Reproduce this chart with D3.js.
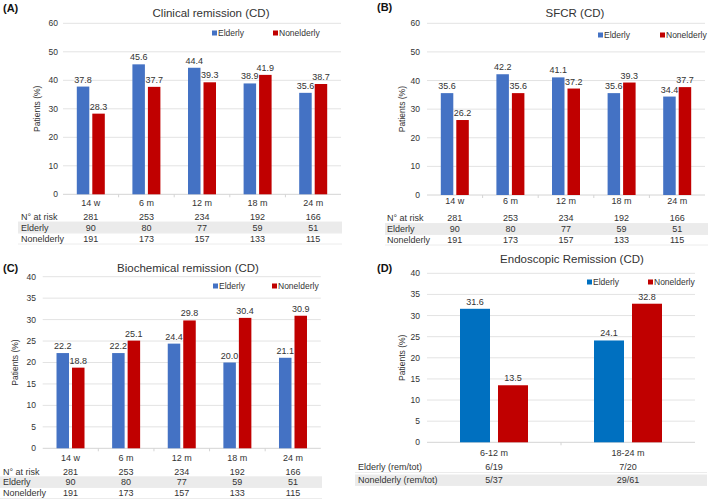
<!DOCTYPE html>
<html>
<head>
<meta charset="utf-8">
<script src="https://cdn.jsdelivr.net/npm/d3@7"></script>
<style>
  body { margin: 0; background: #fff; }
  svg text { font-family: "Liberation Sans", Arial, Helvetica, sans-serif; fill: #333; }
</style>
</head>
<body>
<div id="chart"></div>
<script>
// ---- data ----
const timepoints = ['14 w', '6 m', '12 m', '18 m', '24 m']
const clinicalElderly = [37.8, 45.6, 44.4, 38.9, 35.6]
const clinicalNonelderly = [28.3, 37.7, 39.3, 41.9, 38.7]
const sfcrElderly = [35.6, 42.2, 41.1, 35.6, 34.4]
const sfcrNonelderly = [26.2, 35.6, 37.2, 39.3, 37.7]
const biochemElderly = [22.2, 22.2, 24.4, 20.0, 21.1]
const biochemNonelderly = [18.8, 25.1, 29.8, 30.4, 30.9]
const endoPeriods = ['6-12 m', '18-24 m']
const endoElderly = [31.6, 24.1]
const endoNonelderly = [13.5, 32.8]

const atRiskTotal = [281, 253, 234, 192, 166]
const atRiskElderly = [90, 80, 77, 59, 51]
const atRiskNonelderly = [191, 173, 157, 133, 115]
const endoElderlyRemTot = ['6/19', '7/20']
const endoNonelderlyRemTot = ['5/37', '29/61']

const ticks60 = [0, 10, 20, 30, 40, 50, 60]
const ticks40 = [0, 5, 10, 15, 20, 25, 30, 35, 40]

const blue = '#4472c4'
const blueD = '#0070c0'
const red = '#c00000'

const svg = d3.select('#chart').append('svg')
  .attr('width', 709).attr('height', 500)

function drawPanel(p) {
  const g = svg.append('g')
  const x = d3.scaleBand().domain(p.cats).range([p.x0, p.x1])
  const y = d3.scaleLinear().domain([0, d3.max(p.ticks)]).range([p.yBottom, p.yTop])

  // gridlines
  g.selectAll('.grid').data(p.ticks.slice(1)).enter().append('line')
    .attr('x1', p.x0).attr('x2', p.x1)
    .attr('y1', d => y(d)).attr('y2', d => y(d))
    .attr('stroke', '#e3e3e3').attr('stroke-width', 1)
  // baseline + small ticks
  g.append('line').attr('x1', p.x0).attr('x2', p.x1)
    .attr('y1', y(0)).attr('y2', y(0)).attr('stroke', '#d4d4d4')
  g.selectAll('.xt').data(p.cats.slice(1)).enter().append('line')
    .attr('x1', d => x(d)).attr('x2', d => x(d))
    .attr('y1', y(0)).attr('y2', y(0) + 3).attr('stroke', '#d4d4d4')

  // y tick labels
  g.selectAll('.yl').data(p.ticks).enter().append('text')
    .attr('x', p.tickRight).attr('y', d => y(d))
    .attr('dy', '0.35em').attr('text-anchor', 'end')
    .attr('font-size', 8.5).text(d => d)

  // y title
  g.append('text')
    .attr('transform', `translate(${p.yTitleX},${(p.yTop + p.yBottom) / 2}) rotate(-90)`)
    .attr('text-anchor', 'middle').attr('dy', '0.35em')
    .attr('font-size', 8.5).text('Patients (%)')

  // bars
  const series = [
    { vals: p.elderly, color: p.blue, off: -p.gap / 2 - p.bw },
    { vals: p.nonelderly, color: red, off: p.gap / 2 }
  ]
  series.forEach(s => {
    g.selectAll(null).data(p.cats).enter().append('rect')
      .attr('x', (d) => x(d) + x.bandwidth() / 2 + s.off)
      .attr('y', (d, i) => y(s.vals[i]))
      .attr('width', p.bw)
      .attr('height', (d, i) => y(0) - y(s.vals[i]))
      .attr('fill', s.color)
    g.selectAll(null).data(p.cats).enter().append('text')
      .attr('x', (d) => x(d) + x.bandwidth() / 2 + s.off + p.bw / 2)
      .attr('y', (d, i) => y(s.vals[i]) - 4)
      .attr('text-anchor', 'middle').attr('font-size', 9)
      .text((d, i) => s.vals[i].toFixed(1))
  })

  // x labels
  g.selectAll('.xl').data(p.cats).enter().append('text')
    .attr('x', d => x(d) + x.bandwidth() / 2).attr('y', p.xLabelY)
    .attr('dy', '0.35em').attr('text-anchor', 'middle')
    .attr('font-size', 9).text(d => d)

  // title + panel letter
  g.append('text').attr('x', p.titleX).attr('y', p.titleY).attr('dy', '0.35em')
    .attr('text-anchor', 'middle').attr('font-size', 11.5).text(p.title)
  g.append('text').attr('x', p.letterX).attr('y', p.letterY).attr('dy', '0.35em')
    .attr('font-size', 11).attr('font-weight', 'bold').style('fill', '#111').text(p.letter)

  // legend
  const leg = [['Elderly', p.blue, p.legX[0]], ['Nonelderly', red, p.legX[1]]]
  leg.forEach(l => {
    g.append('rect').attr('x', l[2]).attr('y', p.legY - 2.5)
      .attr('width', 5).attr('height', 5).attr('fill', l[1])
    g.append('text').attr('x', l[2] + 6).attr('y', p.legY).attr('dy', '0.35em')
      .attr('font-size', 8.5).text(l[0])
  })

  // table below
  p.rows.forEach((r, i) => {
    const ry = p.rowY[i]
    if (r.shade) {
      g.append('rect').attr('x', p.tableX0).attr('y', ry - 5.5)
        .attr('width', p.tableX1 - p.tableX0).attr('height', 11).attr('fill', '#ebebeb')
    }
    g.append('line').attr('x1', p.tableX0).attr('x2', p.tableX1)
      .attr('y1', ry + 5.5).attr('y2', ry + 5.5).attr('stroke', '#ececec')
    g.append('text').attr('x', p.rowLabelX).attr('y', ry).attr('dy', '0.35em')
      .attr('font-size', 9).text(r.label)
    g.selectAll(null).data(p.cats).enter().append('text')
      .attr('x', d => x(d) + x.bandwidth() / 2).attr('y', ry).attr('dy', '0.35em')
      .attr('text-anchor', 'middle').attr('font-size', 9)
      .text((d, j) => r.vals[j])
  })
}

const riskRows = [
  { label: 'N° at risk', vals: atRiskTotal },
  { label: 'Elderly', vals: atRiskElderly, shade: true },
  { label: 'Nonelderly', vals: atRiskNonelderly }
]

drawPanel({
  letter: '(A)', letterX: 3, letterY: 8, title: 'Clinical remission (CD)', titleX: 211, titleY: 13,
  cats: timepoints, elderly: clinicalElderly, nonelderly: clinicalNonelderly, blue: blue,
  ticks: ticks60, x0: 63, x1: 341, yTop: 23.3, yBottom: 194.3, tickRight: 58, yTitleX: 37,
  bw: 12.5, gap: 3, xLabelY: 203, legX: [212, 273], legY: 33,
  rows: riskRows, rowY: [216.5, 227.5, 238.5], tableX0: 18, tableX1: 342, rowLabelX: 21
})

drawPanel({
  letter: '(B)', letterX: 377, letterY: 7, title: 'SFCR (CD)', titleX: 575, titleY: 13,
  cats: timepoints, elderly: sfcrElderly, nonelderly: sfcrNonelderly, blue: blue,
  ticks: ticks60, x0: 427, x1: 705, yTop: 23.3, yBottom: 195, tickRight: 420, yTitleX: 402,
  bw: 12.5, gap: 3, xLabelY: 201, legX: [598, 660], legY: 35,
  rows: riskRows, rowY: [218, 229, 239.5], tableX0: 385, tableX1: 708, rowLabelX: 387
})

drawPanel({
  letter: '(C)', letterX: 3, letterY: 268, title: 'Biochemical remission (CD)', titleX: 188, titleY: 268,
  cats: timepoints, elderly: biochemElderly, nonelderly: biochemNonelderly, blue: blue,
  ticks: ticks40, x0: 42.7, x1: 320.8, yTop: 276.7, yBottom: 448.3, tickRight: 36, yTitleX: 15,
  bw: 12.5, gap: 3, xLabelY: 458, legX: [213, 272], legY: 286,
  rows: riskRows, rowY: [471.5, 482, 493], tableX0: 0, tableX1: 322, rowLabelX: 3
})

drawPanel({
  letter: '(D)', letterX: 377, letterY: 268, title: 'Endoscopic Remission (CD)', titleX: 572, titleY: 259,
  cats: endoPeriods, elderly: endoElderly, nonelderly: endoNonelderly, blue: blueD,
  ticks: ticks40, x0: 427, x1: 695, yTop: 273.3, yBottom: 442.3, tickRight: 420, yTitleX: 402,
  bw: 30, gap: 8, xLabelY: 453, legX: [587, 648], legY: 282,
  rows: [
    { label: 'Elderly (rem/tot)', vals: endoElderlyRemTot },
    { label: 'Nonelderly (rem/tot)', vals: endoNonelderlyRemTot, shade: true }
  ],
  rowY: [467, 480], tableX0: 355, tableX1: 707, rowLabelX: 358
})
</script>
</body>
</html>
